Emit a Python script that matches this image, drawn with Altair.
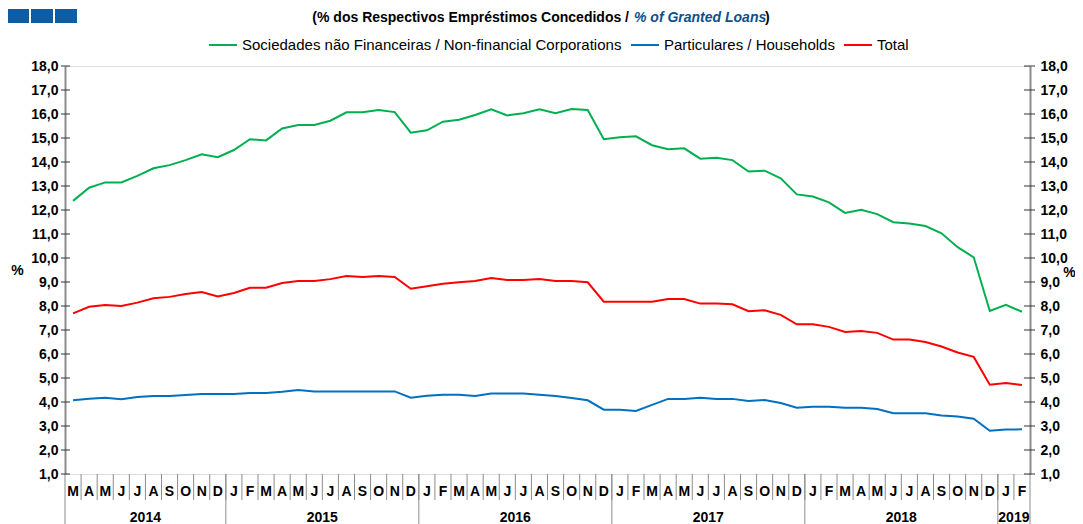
import altair as alt
import pandas as pd

# ---------------- data ----------------
series_names = [
    "Sociedades não Financeiras / Non-financial Corporations",
    "Particulares / Households",
    "Total",
]
series_colors = ["#00b050", "#0070c0", "#ff0000"]

nfc = [12.38, 12.93, 13.15, 13.15, 13.42, 13.74, 13.87, 14.08, 14.32, 14.2,
       14.5, 14.95, 14.9, 15.4, 15.54, 15.54, 15.72, 16.07, 16.07, 16.17,
       16.08, 15.22, 15.32, 15.68, 15.76, 15.96, 16.2, 15.94, 16.03, 16.2,
       16.03, 16.21, 16.17, 14.95, 15.03, 15.07, 14.7, 14.53, 14.57, 14.14,
       14.18, 14.08, 13.6, 13.64, 13.32, 12.65, 12.56, 12.32, 11.88, 12.01,
       11.83, 11.49, 11.44, 11.33, 11.03, 10.45, 10.03, 7.79, 8.05, 7.76]
households = [4.07, 4.14, 4.18, 4.11, 4.21, 4.25, 4.25, 4.29, 4.33, 4.33,
              4.33, 4.38, 4.38, 4.43, 4.5, 4.44, 4.44, 4.44, 4.44, 4.44,
              4.44, 4.18, 4.26, 4.3, 4.3, 4.25, 4.35, 4.35, 4.35, 4.3,
              4.25, 4.17, 4.07, 3.68, 3.68, 3.63, 3.88, 4.13, 4.13, 4.18,
              4.13, 4.13, 4.04, 4.08, 3.96, 3.76, 3.8, 3.8, 3.76, 3.76,
              3.71, 3.53, 3.53, 3.53, 3.44, 3.4, 3.3, 2.8, 2.85, 2.86]
total = [7.69, 7.97, 8.04, 8.0, 8.14, 8.32, 8.38, 8.5, 8.58, 8.4,
         8.54, 8.76, 8.76, 8.96, 9.04, 9.04, 9.12, 9.25, 9.21, 9.25,
         9.21, 8.72, 8.82, 8.93, 8.99, 9.04, 9.17, 9.08, 9.08, 9.12,
         9.04, 9.04, 8.99, 8.18, 8.18, 8.18, 8.18, 8.29, 8.29, 8.1,
         8.1, 8.07, 7.78, 7.82, 7.63, 7.24, 7.24, 7.13, 6.92, 6.96,
         6.88, 6.6, 6.6, 6.5, 6.31, 6.06, 5.88, 4.72, 4.79, 4.71]

month_letters = (["M", "A", "M", "J", "J", "A", "S", "O", "N", "D"]
                 + ["J", "F", "M", "A", "M", "J", "J", "A", "S", "O", "N", "D"] * 4
                 + ["J", "F"])

year_labels = ["2014", "2015", "2016", "2017", "2018", "2019"]
year_first = [0, 10, 22, 34, 46, 58]
year_last = [9, 21, 33, 45, 57, 59]

y_ticks = list(range(1, 19))

# ---------------- tables ----------------
n = len(month_letters)
rows = []
for name, vals in zip(series_names, [nfc, households, total]):
    for i, v in enumerate(vals):
        rows.append({"idx": i, "value": v, "series": name})
df = pd.DataFrame(rows)

df_months = pd.DataFrame({"idx": list(range(n)), "letter": month_letters})
df_msep = pd.DataFrame({"pos": [i - 0.5 for i in range(1, n)]})
df_years = pd.DataFrame({
    "year": year_labels,
    "mid": [(a + b) / 2 for a, b in zip(year_first, year_last)],
})
df_ysep = pd.DataFrame({"pos": [a - 0.5 for a in year_first] + [year_last[-1] + 0.5]})
df_yt = pd.DataFrame({"v": y_ticks})

FONT = "Liberation Sans"
W, H = 965, 408

xscale = alt.Scale(domain=[-0.5, n - 0.5], nice=False, zero=False)
yscale = alt.Scale(domain=[1, 18], nice=False, zero=False)
label_expr = "replace(format(datum.value, '.1f'), '.', ',')"

lines = alt.Chart(df).mark_line(strokeWidth=2).encode(
    x=alt.X("idx:Q", scale=xscale,
            axis=alt.Axis(labels=False, ticks=False, grid=False, title=None,
                          domainColor="#333333", domainWidth=1)),
    y=alt.Y("value:Q", scale=yscale,
            axis=alt.Axis(values=y_ticks, labelExpr=label_expr, ticks=False,
                          grid=False, domainColor="#8c8c8c", domainWidth=2,
                          labelFont=FONT, labelFontSize=14, labelFontWeight="bold",
                          labelColor="#000000", labelPadding=7,
                          title="%", titleAngle=0, titleX=-48, titleY=204,
                          titleAlign="center", titleBaseline="middle",
                          titleFont=FONT, titleFontSize=14, titleFontWeight="bold")),
    color=alt.Color("series:N",
                    scale=alt.Scale(domain=series_names, range=series_colors),
                    legend=alt.Legend(orient="none", direction="horizontal",
                                      legendX=143, legendY=-36, title=None,
                                      symbolType="stroke", symbolSize=784,
                                      symbolStrokeWidth=2, labelFont=FONT,
                                      labelFontSize=15, labelColor="#000000",
                                      labelLimit=0,
                                      columnPadding=5, labelOffset=4, padding=0)),
    order=alt.Order("idx:Q"),
)

ticks_left = alt.Chart(df_yt).mark_rule(color="#333333").encode(
    y=alt.Y("v:Q", scale=yscale, axis=None),
    x=alt.value(-4), x2=alt.value(5),
)

right_axis = alt.Chart(df_yt).mark_rule(color="#333333").encode(
    y=alt.Y("v:Q", scale=yscale,
            axis=alt.Axis(orient="right", values=y_ticks, labelExpr=label_expr,
                          ticks=False, grid=False, domainColor="#8c8c8c",
                          domainWidth=2, labelFont=FONT, labelFontSize=14,
                          labelFontWeight="bold", labelColor="#000000",
                          labelPadding=10, title="%", titleAngle=0,
                          titleX=39, titleY=206, titleAlign="center",
                          titleBaseline="middle", titleFont=FONT,
                          titleFontSize=14, titleFontWeight="bold")),
    x=alt.value(W - 6), x2=alt.value(W + 5),
)

month_sep = alt.Chart(df_msep).mark_rule(color="#8c8c8c").encode(
    x=alt.X("pos:Q", scale=xscale, axis=None),
    y=alt.value(H), y2=alt.value(H + 26),
)
year_sep = alt.Chart(df_ysep).mark_rule(color="#8c8c8c").encode(
    x=alt.X("pos:Q", scale=xscale, axis=None),
    y=alt.value(H), y2=alt.value(H + 52),
)
month_text = alt.Chart(df_months).mark_text(
    font=FONT, fontSize=14, fontWeight="bold", color="#000000", baseline="middle"
).encode(
    x=alt.X("idx:Q", scale=xscale, axis=None),
    y=alt.value(H + 18),
    text="letter:N",
)
year_text = alt.Chart(df_years).mark_text(
    font=FONT, fontSize=14, fontWeight="bold", color="#000000", baseline="middle"
).encode(
    x=alt.X("mid:Q", scale=xscale, axis=None),
    y=alt.value(H + 44),
    text="year:N",
)

# header decorations
sq = pd.DataFrame({"k": [0, 1, 2]})
squares = [
    alt.Chart(sq.iloc[[k]]).mark_rect(color="#0d5ca6").encode(
        x=alt.value(x0), x2=alt.value(x0 + 22), y=alt.value(-57), y2=alt.value(-43))
    for k, x0 in enumerate([-58, -34, -10])
]
sub1 = alt.Chart(sq.iloc[[0]]).mark_text(
    text="(% dos Respectivos  Empréstimos Concedidos /", font=FONT, fontSize=14,
    fontWeight="bold", align="right", baseline="middle", color="#000000"
).encode(x=alt.value(564), y=alt.value(-48))
sub2 = alt.Chart(sq.iloc[[0]]).mark_text(
    text="% of Granted Loans", font=FONT, fontSize=14, fontWeight="bold",
    fontStyle="italic", align="left", baseline="middle", color="#0d4f8c"
).encode(x=alt.value(569), y=alt.value(-48))
sub3 = alt.Chart(sq.iloc[[0]]).mark_text(
    text=")", font=FONT, fontSize=14, fontWeight="bold", align="left",
    baseline="middle", color="#000000"
).encode(x=alt.value(700), y=alt.value(-48))

chart = alt.layer(
    month_sep, year_sep, month_text, year_text, lines, ticks_left, right_axis,
    *squares, sub1, sub2, sub3
).resolve_scale(y="independent").properties(
    width=W, height=H,
    autosize=alt.AutoSizeParams(type="none"),
    padding={"left": 57, "top": 58, "right": 45, "bottom": 50},
).configure_view(stroke=None).configure(background="#ffffff")

chart.save("out.html", embed_options={"renderer": "svg", "actions": False})
